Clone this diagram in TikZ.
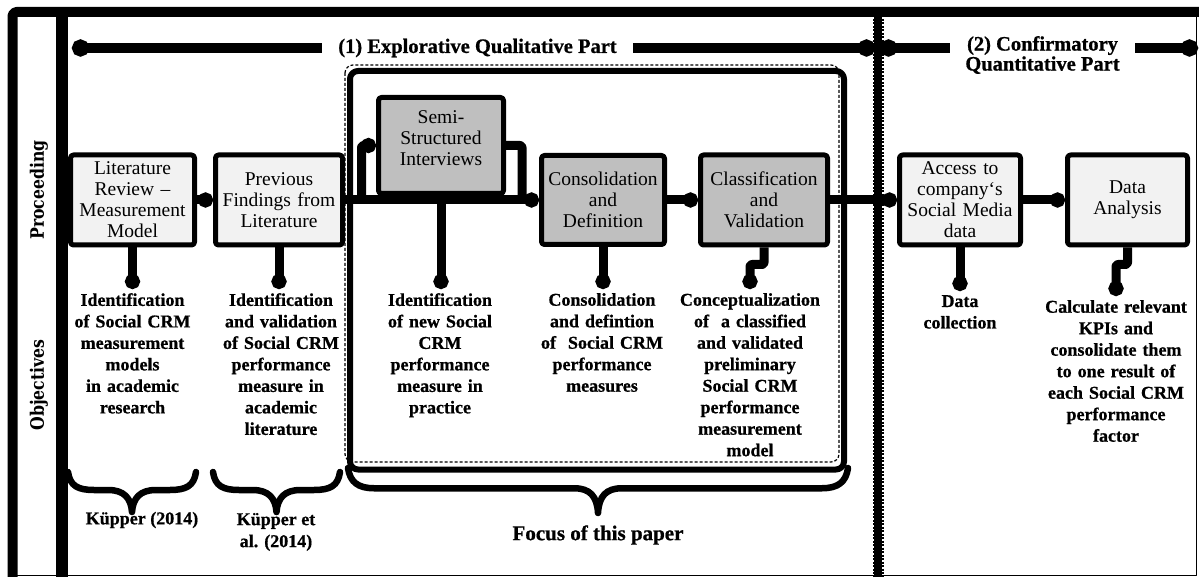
\documentclass[tikz,border=0pt]{standalone}
\usepackage{fontspec}
\setmainfont{Liberation Serif}
\newfontfamily\slabfont{DejaVu Serif}[UprightFont=* Bold, FakeStretch=0.85]
\newfontfamily\heavyfont{Liberation Serif}[UprightFont=* Bold, FakeBold=0.8]
\usetikzlibrary{arrows.meta}
\definecolor{boxlight}{HTML}{F2F2F2}
\definecolor{boxdark}{HTML}{BFBFBF}

% curly brace from (#1,#3) to (#2,#3) with its tip at height #4
\newcommand{\curlybrace}[4]{%
  \pgfmathsetmacro{\bxm}{(#1+#2)/2}%
  \pgfmathsetmacro{\bym}{#3+0.45*(#4-#3)}%
  \draw[bracestroke] (#1,#3) .. controls ({#1+2},{#3+14}) and ({#1+10},\bym) .. ({#1+26},\bym)
    -- ({\bxm-24},\bym) .. controls ({\bxm-8},\bym) and ({\bxm-1},{\bym+8}) .. (\bxm,#4)
    .. controls ({\bxm+1},{\bym+8}) and ({\bxm+8},\bym) .. ({\bxm+24},\bym)
    -- ({#2-26},\bym) .. controls ({#2-10},\bym) and ({#2-2},{#3+14}) .. (#2,#3);}

\tikzset{
  stepbox/.style={draw, line width=5pt, rounded corners=3pt, minimum width=124pt,
    minimum height=90pt, text width=118pt, align=center, inner sep=1pt,
    font=\fontsize{19.5}{21}\selectfont},
  lightbox/.style={stepbox, fill=boxlight},
  darkbox/.style={stepbox, fill=boxdark},
  objtext/.style={anchor=north, align=center, text width=170pt, inner xsep=0pt,
    inner ysep=4pt, font=\fontsize{18}{21.5}\selectfont\heavyfont},
  flow/.style={line width=9pt, rounded corners=2pt},
  dotend/.style={flow, -{Circle[length=15pt,width=15pt]}},
  hdrline/.style={line width=10pt, -{Circle[length=17pt,width=17pt]}},
  hdrtext/.style={font=\fontsize{20.5}{20}\selectfont\heavyfont, align=center, inner sep=0pt},
  bracestroke/.style={line width=6.5pt, line cap=round, line join=round},
  bracelabel/.style={font=\fontsize{18}{22}\selectfont\heavyfont, align=center, inner sep=0pt},
  sidelabel/.style={font=\fontsize{18.5}{20}\selectfont\slabfont, rotate=90, inner sep=0pt},
}

\begin{document}
\begin{tikzpicture}[x=1pt, y=-1pt, line join=round]
\useasboundingbox (0,0) rectangle (1199,577);
\fill[white] (0,0) rectangle (1199,577);

% outer frame and column separators
\draw[line width=10pt, rounded corners=4pt] (12.5,577) -- (12.5,12) -- (1199,12);
\draw[line width=1.5pt] (12.5,575.5) -- (1196.5,575.5) -- (1196.5,12);
\draw[line width=12pt] (61.5,12) -- (61.5,577);
\draw[line width=11pt, dash pattern=on 2pt off 1.5pt] (878,12) -- (878,577);
\draw[line width=8pt] (878,12) -- (878,577);

% focus frame
\draw[line width=6pt, rounded corners=8pt] (350,71) rectangle (844,469.5);
\draw[line width=1.2pt, dash pattern=on 3pt off 2pt, rounded corners=8pt] (345,65) rectangle (839,462);

% row labels
\node[sidelabel] (proc) at (39,190) {Proceeding};
\node[sidelabel] (objs) at (39,385) {Objectives};

% phase headers
\node[hdrtext, minimum width=311pt] (hdr1) at (477.5,48) {(1) Explorative Qualitative Part};
\node[hdrtext, minimum width=185pt] (hdr2) at (1042.5,55) {(2) Confirmatory\\Quantitative Part};
\coordinate (h1l) at (72,48);
\coordinate (h1r) at (875,48);
\coordinate (h2l) at (880,48);
\coordinate (h2r) at (1198,48);
\draw[hdrline] (hdr1.west) -- (h1l);
\draw[hdrline] (hdr1.east) -- (h1r);
\draw[hdrline] (h2l -| hdr2.west) -- (h2l);
\draw[hdrline] (h2l -| hdr2.east) -- (h2r);

% process steps
\node[lightbox] (lit) at (132.5,200) {Literature\\Review –\\Measurement\\Model};
\node[lightbox, minimum width=127pt] (prev) at (279,200) {Previous\\Findings from\\Literature};
\node[darkbox, minimum width=125pt, minimum height=96pt, text depth=56pt] (semi) at (441,145.5) {Semi-\\Structured\\Interviews};
\node[darkbox, minimum width=123pt, minimum height=89pt] (cons) at (603,200) {Consolidation\\and\\Definition};
\node[darkbox, minimum width=127pt] (clas) at (764,200) {Classification\\and\\Validation};
\node[lightbox, minimum width=121pt] (acc) at (960,200) {Access to\\company‘s\\Social Media\\data};
\node[lightbox, minimum width=120pt] (ana) at (1127.5,200) {Data\\Analysis};

% objectives
\node[objtext] (o1) at (132.5,289) {Identification\\of Social CRM\\measurement\\models\\in academic\\research};
\node[objtext] (o2) at (281,289) {Identification\\and validation\\of Social CRM\\performance\\measure in\\academic\\literature};
\node[objtext] (o3) at (440,289) {Identification\\of new Social\\CRM\\performance\\measure in\\practice};
\node[objtext] (o4) at (602,289) {Consolidation\\and defintion\\of~ Social CRM\\performance\\measures};
\node[objtext] (o5) at (750,289) {Conceptualization\\of~ a classified\\and validated\\preliminary\\Social CRM\\performance\\measurement\\model};
\node[objtext] (o6) at (960,291) {Data\\collection};
\node[objtext] (o7) at (1116,296) {Calculate relevant\\KPIs and\\consolidate them\\to one result of\\each Social CRM\\performance\\factor};

% flow between steps
\coordinate (split) at (361.5,200);
\coordinate (merge) at (522,200);
\draw[dotend] (lit.east) -- (prev.west);
\draw[dotend] (prev.east) -- (cons.west);
\draw[dotend] (split) |- (semi.west);
\draw[flow] (semi.east) -| (merge);
\draw[dotend] (cons.east) -- (clas.west);
\draw[dotend] (clas.east) -- (acc.west);
\draw[dotend] (acc.east) -- (ana.west);

% steps to objectives
\draw[dotend] (lit.south) -- (lit.south |- o1.north);
\draw[dotend] (prev.south) -- (prev.south |- o2.north);
\draw[dotend] (semi.south) -- (semi.south |- o3.north);
\draw[dotend] (cons.south) -- (cons.south |- o4.north);
\draw[dotend] (clas.south) -- ++(0,17) -| (o5.north);
\draw[dotend] (acc.south) -- (acc.south |- o6.north);
\draw[dotend] (ana.south) -- ++(0,17) -| (o7.north);

% braces and sources
\curlybrace{68}{196}{472}{512}
\curlybrace{213}{340}{472}{512}
\curlybrace{348}{848}{468}{513}
\node[bracelabel] (k1) at (142,520) {Küpper (2014)};
\node[bracelabel] (k2) at (276,532) {Küpper et\\al. (2014)};
\node[bracelabel, font=\fontsize{21}{22}\selectfont\heavyfont] (focus) at (598,535) {Focus of this paper};
\end{tikzpicture}
\end{document}
